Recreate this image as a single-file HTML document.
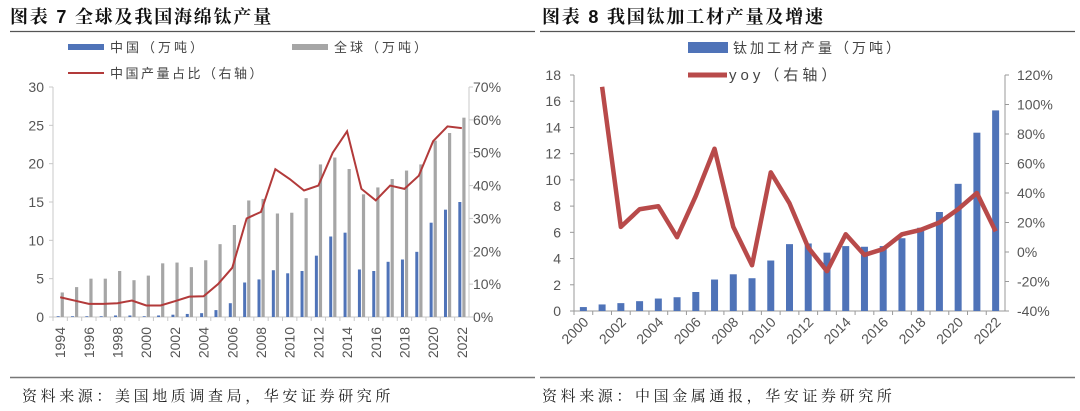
<!DOCTYPE html>
<html><head><meta charset="utf-8"><style>
body{margin:0;background:#fff;width:1080px;height:411px;overflow:hidden;font-family:"Liberation Sans","Noto Sans CJK SC",sans-serif;}
svg{display:block}
</style></head><body>
<svg id="s" width="1080" height="411" xmlns="http://www.w3.org/2000/svg">
<g font-family="'Liberation Sans','Noto Serif CJK SC',serif">
<text x="10" y="23" font-size="18" font-weight="bold" fill="#111" letter-spacing="1.8">图表 7 全球及我国海绵钛产量</text>
<text x="542" y="23" font-size="18" font-weight="bold" fill="#111" letter-spacing="1.8">图表 8 我国钛加工材产量及增速</text>
<text x="22" y="401" font-size="15" fill="#222" letter-spacing="3.6">资料来源：美国地质调查局，华安证券研究所</text>
<text x="542" y="401" font-size="15" fill="#222" letter-spacing="3.6">资料来源：中国金属通报，华安证券研究所</text>
</g>
<line x1="10" y1="31.5" x2="535" y2="31.5" stroke="#555" stroke-width="1.2"/>
<line x1="540" y1="31.5" x2="1075" y2="31.5" stroke="#555" stroke-width="1.2"/>
<line x1="10" y1="377.5" x2="535" y2="377.5" stroke="#777" stroke-width="1.5"/>
<line x1="540" y1="377.5" x2="1075" y2="377.5" stroke="#777" stroke-width="1.5"/>
<rect x="68" y="44" width="36" height="6" fill="#4f73b8"/>
<text x="110" y="52" font-size="13" fill="#444" letter-spacing="3">中国（万吨）</text>
<rect x="292" y="44" width="36" height="6" fill="#a6a6a6"/>
<text x="334" y="52" font-size="13" fill="#444" letter-spacing="3">全球（万吨）</text>
<line x1="68" y1="73" x2="104" y2="73" stroke="#b23a3a" stroke-width="2"/>
<text x="110" y="78" font-size="13" fill="#444" letter-spacing="2.5">中国产量占比（右轴）</text>
<rect x="688" y="42" width="40" height="11" fill="#4f73b8"/>
<text x="733" y="53" font-size="14" fill="#444" letter-spacing="3">钛加工材产量（万吨）</text>
<line x1="688" y1="75" x2="727" y2="75" stroke="#b84a4a" stroke-width="5"/>
<text x="729" y="80" font-size="15" fill="#444" letter-spacing="4">yoy（右轴）</text>
<g id="L"></g><g id="R"></g>
</svg>
<script>
const lYears=[];for(let y=1994;y<=2022;y++)lYears.push(y);
const lChina=[0.1,0.1,0.1,0.1,0.2,0.2,0.1,0.2,0.3,0.4,0.5,0.9,1.8,4.5,4.9,6.1,5.7,6.0,8.0,10.5,11.0,6.2,6.0,7.2,7.5,8.5,12.3,14.0,15.0];
const lGlobal=[3.2,3.9,5.0,5.0,6.0,4.8,5.4,7.0,7.1,6.5,7.4,9.5,12.0,15.2,15.4,13.5,13.6,15.5,19.9,20.8,19.3,16.0,16.9,18.0,19.1,19.9,23.0,24.0,26.0];
const lShare=[6,5,4,4,4.2,5,3.5,3.5,4.8,6.2,6.3,10,15,30,32,45,42,38.5,40,50,56.5,39,35.5,40,39,43,53.5,58,57.5];
const lLeftTicks=[0,5,10,15,20,25,30];
const lRightTicks=[0,10,20,30,40,50,60,70];
const rYears=[];for(let y=2000;y<=2022;y++)rYears.push(y);
const rOutput=[0.3,0.5,0.6,0.75,0.95,1.05,1.45,2.4,2.8,2.5,3.85,5.1,5.15,4.45,4.95,4.9,4.95,5.55,6.35,7.55,9.7,13.6,15.3];
const rYoy=[null,112,17,29,31,10,38,70,17,-9,54,33,3,-13,12,-2,2,12,15,20,29,40,14];
const rLeftTicks=[0,2,4,6,8,10,12,14,16,18];
const rRightTicks=[-40,-20,0,20,40,60,80,100,120];
const NS='http://www.w3.org/2000/svg';
function mk(p,t,a){const e=document.createElementNS(NS,t);for(const k in a)e.setAttribute(k,a[k]);p.appendChild(e);return e;}
(function(){
const g=document.getElementById('L');
const x0=53,x1=469,yb=317,yt=87,n=lYears.length,bw=(x1-x0)/n;
const yL=v=>yb-(v/30)*(yb-yt), yR=v=>yb-(v/70)*(yb-yt), xc=i=>x0+bw*(i+0.5);
let e=mk(g,'line',{x1:x0,y1:yt,x2:x0,y2:yb,stroke:'#c8c8c8'});


e=mk(g,'line',{x1:x1,y1:yt,x2:x1,y2:yb,stroke:'#c8c8c8'});


e=mk(g,'line',{x1:x0,y1:yb,x2:x1,y2:yb,stroke:'#c8c8c8'});


lLeftTicks.forEach(v=>{
 e=mk(g,'text',{x:44,y:yL(v)+5,'text-anchor':'end','font-size':14,fill:'#555'});e.textContent=v;
 
 
 mk(g,'line',{x1:x0-4,y1:yL(v),x2:x0,y2:yL(v),stroke:'#c8c8c8'});});
lRightTicks.forEach(v=>{
 e=mk(g,'text',{x:473,y:yR(v)+5,'font-size':14,fill:'#555'});e.textContent=v+'%';
 
 
 mk(g,'line',{x1:x1,y1:yR(v),x2:x1+4,y2:yR(v),stroke:'#c8c8c8'});});
lYears.forEach((y,i)=>{
 const c=xc(i);
 mk(g,'line',{x1:x0+bw*i,y1:yb,x2:x0+bw*i,y2:yb+4,stroke:'#c8c8c8'});
 e=mk(g,'rect',{x:c-3.5,y:yL(lChina[i]),width:3,height:yb-yL(lChina[i]),fill:'#4f73b8'});
 
 
 e=mk(g,'rect',{x:c+0.5,y:yL(lGlobal[i]),width:3.2,height:yb-yL(lGlobal[i]),fill:'#a6a6a6'});
 
 
 if(i%2==0){e=mk(g,'text',{x:0,y:0,'font-size':14,fill:'#555','text-anchor':'end',transform:`translate(${c+5},${yb+10}) rotate(-90)`});e.textContent=y;
 
 }
});
e=mk(g,'polyline',{points:lShare.map((v,i)=>xc(i)+','+yR(v)).join(' '),fill:'none',stroke:'#b23a3a','stroke-width':2});


})();
(function(){
const g=document.getElementById('R');
const x0=574,x1=1005,yb=311,yt=75,n=rYears.length,bw=(x1-x0)/n;
const yL=v=>yb-(v/18)*(yb-yt), yR=v=>yb-((v+40)/160)*(yb-yt), xc=i=>x0+bw*(i+0.5);
let e=mk(g,'line',{x1:x0,y1:yt,x2:x0,y2:yb,stroke:'#999'});


e=mk(g,'line',{x1:x1,y1:yt,x2:x1,y2:yb,stroke:'#999'});


e=mk(g,'line',{x1:x0,y1:yb,x2:x1,y2:yb,stroke:'#999'});


rLeftTicks.forEach(v=>{
 e=mk(g,'text',{x:561,y:yL(v)+5,'text-anchor':'end','font-size':14,fill:'#555'});e.textContent=v;
 
 
 mk(g,'line',{x1:x0-4,y1:yL(v),x2:x0,y2:yL(v),stroke:'#999'});});
rRightTicks.forEach(v=>{
 e=mk(g,'text',{x:1017,y:yR(v)+5,'font-size':14,fill:'#555'});e.textContent=v+'%';
 
 
 mk(g,'line',{x1:x1,y1:yR(v),x2:x1+4,y2:yR(v),stroke:'#999'});});
rYears.forEach((y,i)=>{
 const c=xc(i);
 mk(g,'line',{x1:x0+bw*i,y1:yb,x2:x0+bw*i,y2:yb+4,stroke:'#999'});
 e=mk(g,'rect',{x:c-3.5,y:yL(rOutput[i]),width:7,height:yb-yL(rOutput[i]),fill:'#4f73b8'});
 
 
 if(i%2==0){e=mk(g,'text',{x:0,y:0,'font-size':14,fill:'#555','text-anchor':'end',transform:`translate(${c+6},${yb+12}) rotate(-45)`});e.textContent=y;
 
 }
});
const pts=[];rYoy.forEach((v,i)=>{if(v!==null)pts.push(xc(i)+','+yR(v));});
e=mk(g,'polyline',{points:pts.join(' '),fill:'none',stroke:'#b84a4a','stroke-width':4.5,'stroke-linejoin':'round'});


})();
</script>
</body></html>
